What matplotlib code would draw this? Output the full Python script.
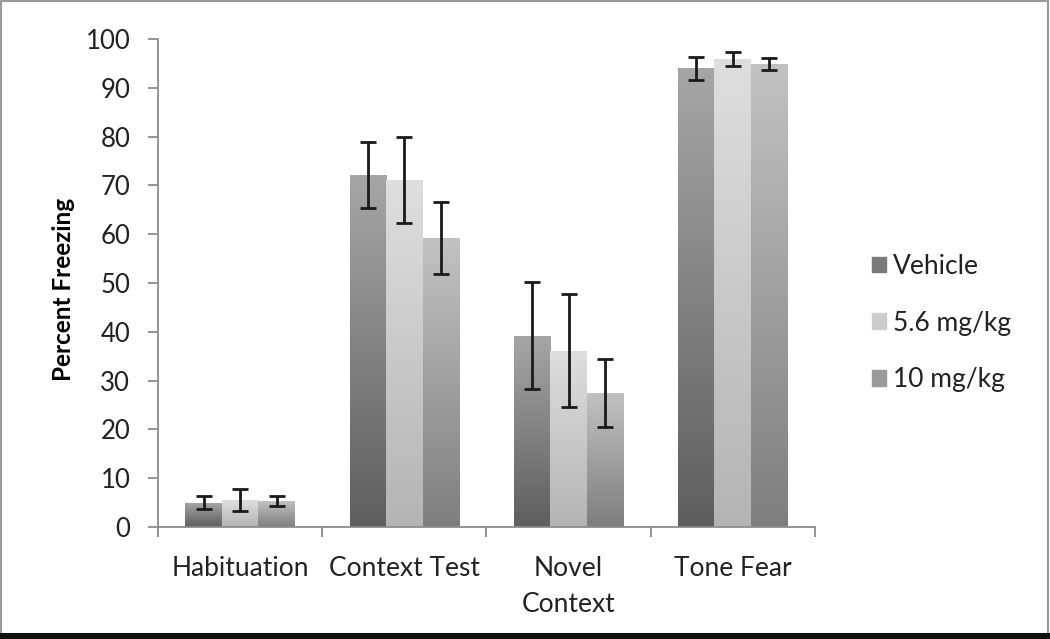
# -*- coding: utf-8 -*-
import matplotlib
matplotlib.use("Agg")
import matplotlib.pyplot as plt
import numpy as np
from matplotlib.colors import LinearSegmentedColormap
from matplotlib.patches import Rectangle

plt.rcParams['font.family'] = ['Lato', 'DejaVu Sans']

######## DATA ########
categories = ['Habituation', 'Context Test', 'Novel\nContext', 'Tone Fear']
groups = ['Vehicle', '5.6 mg/kg', '10 mg/kg']
vehicle = [5.0, 72.1, 39.2, 94.0]
vehicle_err = [1.3, 6.7, 11.0, 2.4]
low_dose = [5.5, 71.1, 36.1, 95.9]
low_dose_err = [2.2, 8.9, 11.6, 1.5]
high_dose = [5.3, 59.2, 27.5, 94.9]
high_dose_err = [1.1, 7.4, 7.0, 1.3]

values = [vehicle, low_dose, high_dose]
errors = [vehicle_err, low_dose_err, high_dose_err]
# (bottom colour, top colour) of each gradient
shades = [('#5e5e5e', '#a6a6a6'), ('#b4b4b4', '#dedede'), ('#7e7e7e', '#c2c2c2')]
legend_colors = ['#7a7a7a', '#cccccc', '#9a9a9a']

fig = plt.figure(figsize=(10.5, 6.39), dpi=100)
ax = fig.add_axes([0.1505, 0.1753, 0.6255, 0.7637])

x = np.arange(len(categories))
width = 0.222
offsets = [-width, 0, width]

for vals, errs, off, (c0, c1), name in zip(values, errors, offsets, shades, groups):
    bars = ax.bar(x + off, vals, width, color='none', edgecolor='none', label=name)
    cmap = LinearSegmentedColormap.from_list('g', [c0, c1])
    grad = np.linspace(0, 1, 256).reshape(-1, 1)
    for b in bars:
        bx, by = b.get_x(), b.get_y()
        bw, bh = b.get_width(), b.get_height()
        im = ax.imshow(grad, cmap=cmap, origin='lower', aspect='auto',
                       extent=[bx, bx + bw, by, by + bh], zorder=2)
        im.set_clip_path(b)
    ax.errorbar(x + off, vals, yerr=errs, fmt='none', ecolor='#1a1a1a',
                elinewidth=2, capsize=6, capthick=2, zorder=4)

ax.set_xlim(-0.5, len(categories) - 0.5)
ax.set_ylim(0, 100)
ax.set_yticks(np.arange(0, 101, 10))

### AXIS:
for s in ['top', 'right']:
    ax.spines[s].set_visible(False)
for s in ['left', 'bottom']:
    ax.spines[s].set_color('#8c8c8c')
    ax.spines[s].set_linewidth(1.3)
ax.tick_params(axis='y', direction='out', length=7, width=1.3, color='#8c8c8c',
               labelsize=18.5, labelcolor='#222222', pad=13)
ax.set_xticks(np.arange(-0.5, len(categories)), minor=False)
ax.set_xticklabels([])
ax.set_xticks(x, minor=True)
ax.set_xticklabels(categories, minor=True, fontsize=19, color='#222222')
ax.tick_params(axis='x', which='major', direction='out', length=7, width=1.3, color='#8c8c8c')
ax.tick_params(axis='x', which='minor', length=0, pad=21)
for lbl in ax.get_xticklabels(minor=True):
    lbl.set_verticalalignment('top')
    lbl.set_linespacing(1.55)

ax.set_ylabel('Percent Freezing', fontsize=17.5, fontweight='bold')
ax.yaxis.set_label_coords(-0.127, 0.486)

##################### LEGEND
handles = [Rectangle((0, 0), 1, 1, color=c) for c in legend_colors]
leg = fig.legend(handles, groups, loc='center left', bbox_to_anchor=(0.830, 0.4945),
                 frameon=False, fontsize=19, handlelength=0.55, handleheight=0.55,
                 handletextpad=0.25, labelspacing=1.2, labelcolor='#222222',
                 borderpad=0, borderaxespad=0)

### BORDER
fig.patches.append(Rectangle((0.001, 0.008), 0.997, 0.99, transform=fig.transFigure,
                             fill=False, edgecolor='#9a9a9a', linewidth=1.5))
fig.patches.append(Rectangle((0, 0), 1, 0.009, transform=fig.transFigure,
                             facecolor='#111111', edgecolor='none'))

plt.savefig("out.png", dpi=100)
